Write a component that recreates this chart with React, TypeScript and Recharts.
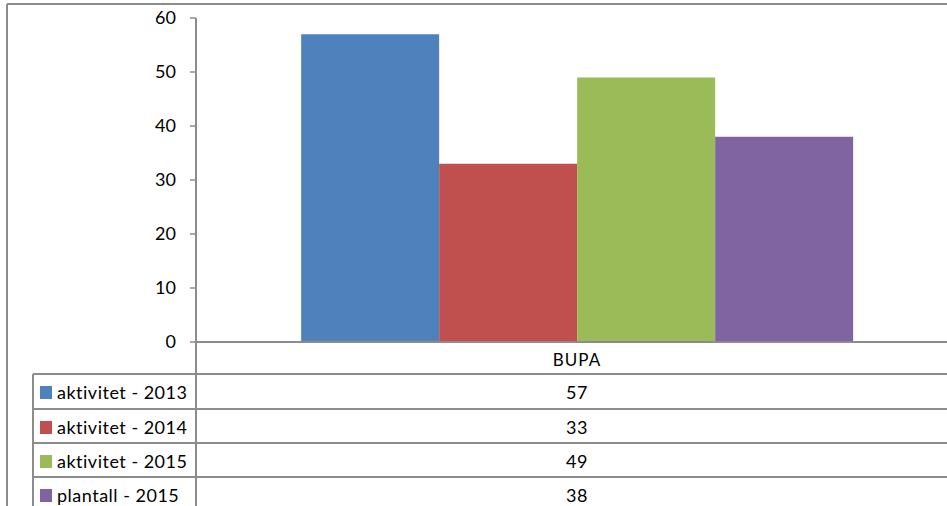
import React from 'react';
import { BarChart, Bar, XAxis, YAxis } from 'recharts';

// data
const categories = ['BUPA'];
const seriesNames = ['aktivitet - 2013', 'aktivitet - 2014', 'aktivitet - 2015', 'plantall - 2015'];
const seriesKeys = ['a2013', 'a2014', 'a2015', 'p2015'];
const seriesValues = [[57], [33], [49], [38]];
const seriesColors = ['#4F81BD', '#C0504D', '#9BBB59', '#8064A2'];
const yTicks = [0, 10, 20, 30, 40, 50, 60];

const chartData = categories.map((name, ci) => {
  const row: Record<string, string | number> = { name };
  seriesKeys.forEach((k, si) => { row[k] = seriesValues[si][ci]; });
  return row;
});

const FONT = 'Lato, "Open Sans", sans-serif';
const LINE = '#8c8c8c';

// table layout (data table under the plot, like Excel)
const rowTop = [374, 409, 443, 477];
const catCenter = 577;

export default function App() {
  return (
    <div style={{ position: 'absolute', left: 0, top: 0, width: 947, height: 506, overflow: 'hidden', background: '#fff', fontVariantLigatures: 'none' }}>
      <div style={{ position: 'absolute', left: 0, top: 0 }}>
        <BarChart
          width={980}
          height={506}
          data={chartData}
          margin={{ top: 18, right: 22, left: 0, bottom: 134 }}
          barCategoryGap="13.8%"
          barGap={0}
        >
          <XAxis
            dataKey="name"
            tick={false}
            tickLine={false}
            height={30}
            axisLine={{ stroke: LINE, strokeWidth: 2 }}
          />
          <YAxis
            width={196}
            domain={[0, 60]}
            ticks={yTicks}
            interval={0}
            tickSize={6}
            tickMargin={14}
            axisLine={{ stroke: LINE, strokeWidth: 2 }}
            tickLine={{ stroke: LINE, strokeWidth: 1.5 }}
            tick={{ fill: '#000', fontSize: 18, fontFamily: FONT }}
          />
          {seriesKeys.map((k, i) => (
            <Bar key={k} dataKey={k} name={seriesNames[i]} fill={seriesColors[i]} isAnimationActive={false} />
          ))}
        </BarChart>
      </div>
      {/* frame + data table */}
      <svg width={947} height={506} style={{ position: 'absolute', left: 0, top: 0, pointerEvents: 'none' }}>
        <line x1={7} y1={4} x2={947} y2={4} stroke={LINE} strokeWidth={2} />
        <line x1={7} y1={4} x2={7} y2={506} stroke={LINE} strokeWidth={2} />
        <line x1={196} y1={342} x2={196} y2={506} stroke={LINE} strokeWidth={2} />
        <line x1={33} y1={374} x2={33} y2={506} stroke={LINE} strokeWidth={2} />
        {rowTop.map((y) => (
          <line key={y} x1={33} y1={y} x2={947} y2={y} stroke={LINE} strokeWidth={2} />
        ))}
        <text x={catCenter} y={366} textAnchor="middle" fontFamily={FONT} fontSize={17} letterSpacing={1} fill="#000">
          {categories[0]}
        </text>
        {seriesNames.map((n, i) => (
          <g key={n}>
            <rect x={40} y={rowTop[i] + 12} width={12} height={13} fill={seriesColors[i]} />
            <text x={57} y={rowTop[i] + 25} fontFamily={FONT} fontSize={18} letterSpacing={0.5} fill="#000">{n}</text>
            <text x={catCenter} y={rowTop[i] + 25} textAnchor="middle" fontFamily={FONT} fontSize={18} letterSpacing={0.5} fill="#000">
              {seriesValues[i][0]}
            </text>
          </g>
        ))}
      </svg>
    </div>
  );
}
